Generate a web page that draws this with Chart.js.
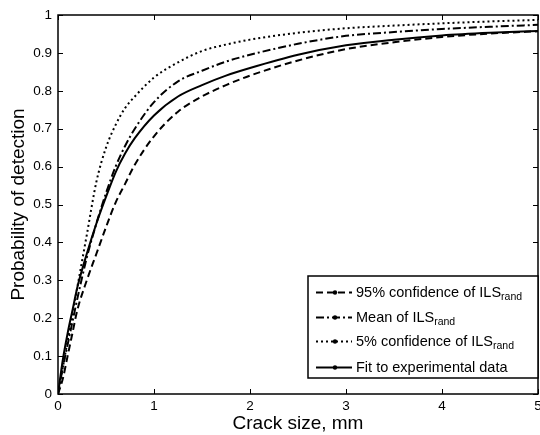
<!DOCTYPE html>
<html>
<head>
<meta charset="utf-8">
<script src="https://cdn.jsdelivr.net/npm/chart.js@4/dist/chart.umd.min.js"></script>
<style>
  html, body { margin: 0; padding: 0; background: #fff; }
  #wrap { width: 540px; height: 435px; }
</style>
</head>
<body>
<div id="wrap"><canvas id="podChart" width="540" height="435"></canvas></div>
<script>
// crack size (mm) sampled along each POD curve
var crackSize = [0, 0.05, 0.1, 0.15, 0.2, 0.3, 0.4, 0.5, 0.6, 0.7, 0.8, 1.0, 1.25, 1.5, 1.75, 2, 2.5, 3, 3.5, 4, 4.5, 5];

// probability of detection for each curve
var conf95Ils = [0, 0.04, 0.10, 0.16, 0.22, 0.30, 0.37, 0.44, 0.505, 0.555, 0.605, 0.68, 0.745, 0.785, 0.815, 0.84, 0.88, 0.91, 0.928, 0.942, 0.951, 0.957];
var meanIls   = [0, 0.07, 0.13, 0.19, 0.25, 0.36, 0.45, 0.53, 0.60, 0.655, 0.70, 0.77, 0.825, 0.853, 0.877, 0.895, 0.924, 0.945, 0.955, 0.963, 0.969, 0.974];
var conf5Ils  = [0, 0.07, 0.14, 0.21, 0.28, 0.42, 0.56, 0.65, 0.71, 0.755, 0.785, 0.835, 0.875, 0.905, 0.922, 0.935, 0.953, 0.965, 0.972, 0.978, 0.983, 0.987];
var fitExp    = [0, 0.09, 0.16, 0.22, 0.28, 0.37, 0.45, 0.52, 0.585, 0.635, 0.675, 0.735, 0.785, 0.815, 0.84, 0.86, 0.895, 0.92, 0.935, 0.946, 0.953, 0.958];

var xTicks = [0, 1, 2, 3, 4, 5];
var yTicks = [0, 0.1, 0.2, 0.3, 0.4, 0.5, 0.6, 0.7, 0.8, 0.9, 1];

var legendNames = ["95% confidence of ILS", "Mean of ILS", "5% confidence of ILS", "Fit to experimental data"];
var legendSub = ["rand", "rand", "rand", ""];

var FONT = "'Liberation Sans', Arial, Helvetica, sans-serif";

function toPoints(ys) {
    var pts = [];
    for (var i = 0; i < crackSize.length; i++) {
        pts.push({ x: crackSize[i], y: ys[i] });
    }
    return pts;
}

var dashes = [[7, 4], [8, 3, 2, 3], [2, 3], []];

function makeSet(label, ys, dash) {
    return {
        label: label,
        data: toPoints(ys),
        borderColor: "#000",
        borderWidth: 2,
        borderDash: dash,
        pointRadius: 0,
        fill: false,
        showLine: true,
        cubicInterpolationMode: "monotone"
    };
}

// plain number labels: 0, 0.1 ... 1
function plainLabel(v) {
    return String(Math.round(v * 10) / 10);
}

// box, inward ticks on all four sides, and the legend
var frameAndLegend = {
    id: "frameAndLegend",
    afterDraw: function (chart) {
        var ctx = chart.ctx;
        var a = chart.chartArea;
        var xs = chart.scales.x;
        var ys = chart.scales.y;
        var tl = 5;

        ctx.save();
        ctx.strokeStyle = "#000";
        ctx.lineWidth = 1.5;
        ctx.setLineDash([]);
        ctx.strokeRect(a.left, a.top, a.right - a.left, a.bottom - a.top);

        ctx.lineWidth = 1;
        ctx.beginPath();
        xTicks.forEach(function (v) {
            var px = Math.round(xs.getPixelForValue(v)) + 0.5;
            ctx.moveTo(px, a.bottom); ctx.lineTo(px, a.bottom - tl);
            ctx.moveTo(px, a.top); ctx.lineTo(px, a.top + tl);
        });
        yTicks.forEach(function (v) {
            var py = Math.round(ys.getPixelForValue(v)) + 0.5;
            ctx.moveTo(a.left, py); ctx.lineTo(a.left + tl, py);
            ctx.moveTo(a.right, py); ctx.lineTo(a.right - tl, py);
        });
        ctx.stroke();

        // legend box in the lower right corner
        var bw = 230, bh = 102;
        var bx = a.right - bw, by = a.bottom - 118;
        ctx.fillStyle = "#fff";
        ctx.fillRect(bx, by, bw, bh);
        ctx.lineWidth = 1.5;
        ctx.strokeRect(bx, by, bw, bh);

        var rowY = [16.5, 41.5, 65.5, 91.5];
        for (var i = 0; i < legendNames.length; i++) {
            var y = by + rowY[i];
            ctx.strokeStyle = "#000";
            ctx.lineWidth = 2;
            ctx.setLineDash(dashes[i]);
            ctx.beginPath();
            ctx.moveTo(bx + 8, y);
            ctx.lineTo(bx + 44, y);
            ctx.stroke();
            ctx.setLineDash([]);
            ctx.beginPath();
            ctx.arc(bx + 27, y, 2.2, 0, Math.PI * 2);
            ctx.fillStyle = "#000";
            ctx.fill();

            ctx.font = "14.5px " + FONT;
            ctx.textBaseline = "middle";
            ctx.textAlign = "left";
            ctx.fillText(legendNames[i], bx + 48, y);
            if (legendSub[i]) {
                var w = ctx.measureText(legendNames[i]).width;
                ctx.font = "10.5px " + FONT;
                ctx.fillText(legendSub[i], bx + 48 + w, y + 5);
            }
        }
        ctx.restore();
    }
};

var ctx0 = document.getElementById("podChart");
var podChart = new Chart(ctx0, {
    type: "scatter",
    data: {
        datasets: [
            makeSet("95% confidence of ILSrand", conf95Ils, dashes[0]),
            makeSet("Mean of ILSrand", meanIls, dashes[1]),
            makeSet("5% confidence of ILSrand", conf5Ils, dashes[2]),
            makeSet("Fit to experimental data", fitExp, dashes[3])
        ]
    },
    options: {
        responsive: false,
        animation: false,
        layout: { padding: { left: 0, top: 15, right: 2, bottom: 0 } },
        plugins: { legend: { display: false }, tooltip: { enabled: false } },
        scales: {
            x: {
                type: "linear",
                min: 0, max: 5,
                grid: { display: false, drawTicks: false },
                border: { display: false },
                afterBuildTicks: function (s) { s.ticks = xTicks.map(function (v) { return { value: v }; }); },
                afterFit: function (s) { s.height = 41; s.paddingLeft = 0; s.paddingRight = 0; },
                ticks: { color: "#000", padding: 4, font: { family: FONT, size: 13.5 }, callback: plainLabel },
                title: { display: true, text: "Crack size, mm", color: "#000", padding: { top: 0, bottom: 0 }, font: { family: FONT, size: 19 } }
            },
            y: {
                type: "linear",
                min: 0, max: 1,
                grid: { display: false, drawTicks: false },
                border: { display: false },
                afterBuildTicks: function (s) { s.ticks = yTicks.map(function (v) { return { value: v }; }); },
                afterFit: function (s) { s.width = 58; s.paddingTop = 0; s.paddingBottom = 0; },
                ticks: { color: "#000", padding: 6, font: { family: FONT, size: 13.5 }, callback: plainLabel },
                title: { display: true, text: "Probability of detection", color: "#000", padding: { top: 7, bottom: 4 }, font: { family: FONT, size: 19 } }
            }
        }
    },
    plugins: [frameAndLegend]
});
</script>
</body>
</html>
